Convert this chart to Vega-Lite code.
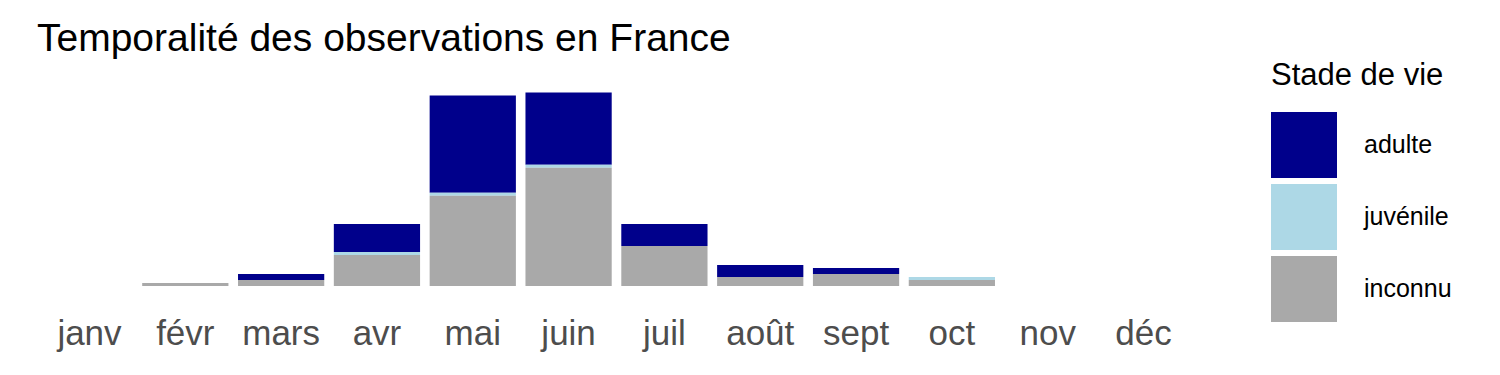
{
  "$schema": "https://vega.github.io/schema/vega-lite/v6.json",
  "autosize": "none",
  "width": 1169,
  "height": 200,
  "padding": {"left": 32, "top": 86, "right": 299, "bottom": 89},
  "background": "white",
  "config": {"view": {"stroke": null}, "font": "Liberation Sans"},
  "title": {
    "text": "Temporalité des observations en France",
    "font": "Liberation Sans",
    "fontSize": 39,
    "fontWeight": "normal",
    "color": "black",
    "anchor": "start",
    "frame": "group",
    "dx": 5,
    "offset": 2
  },
  "data": {
    "values": [
      {"mois": "févr", "stade": "inconnu", "n": 1},
      {"mois": "mars", "stade": "adulte", "n": 2},
      {"mois": "mars", "stade": "inconnu", "n": 2},
      {"mois": "avr", "stade": "adulte", "n": 9.3},
      {"mois": "avr", "stade": "juvénile", "n": 1},
      {"mois": "avr", "stade": "inconnu", "n": 10.3},
      {"mois": "mai", "stade": "adulte", "n": 32.3},
      {"mois": "mai", "stade": "juvénile", "n": 1},
      {"mois": "mai", "stade": "inconnu", "n": 30},
      {"mois": "juin", "stade": "adulte", "n": 24},
      {"mois": "juin", "stade": "juvénile", "n": 1},
      {"mois": "juin", "stade": "inconnu", "n": 39.3},
      {"mois": "juil", "stade": "adulte", "n": 7.3},
      {"mois": "juil", "stade": "inconnu", "n": 13.3},
      {"mois": "août", "stade": "adulte", "n": 4},
      {"mois": "août", "stade": "inconnu", "n": 3},
      {"mois": "sept", "stade": "adulte", "n": 2},
      {"mois": "sept", "stade": "inconnu", "n": 4},
      {"mois": "oct", "stade": "juvénile", "n": 1},
      {"mois": "oct", "stade": "inconnu", "n": 2}
    ]
  },
  "transform": [
    {"calculate": "indexof(['inconnu','juvénile','adulte'], datum.stade)", "as": "ordre"}
  ],
  "mark": {"type": "bar", "stroke": null},
  "encoding": {
    "x": {
      "field": "mois",
      "type": "nominal",
      "scale": {
        "domain": ["janv", "févr", "mars", "avr", "mai", "juin", "juil", "août", "sept", "oct", "nov", "déc"],
        "paddingInner": 0.1,
        "paddingOuter": 0.15
      },
      "axis": {
        "title": null,
        "labelAngle": 0,
        "ticks": false,
        "domain": false,
        "grid": false,
        "labelFont": "Liberation Sans",
        "labelFontSize": 35,
        "labelColor": "#4d4d4d",
        "labelPadding": 30
      }
    },
    "y": {
      "field": "n",
      "type": "quantitative",
      "stack": "zero",
      "scale": {"domain": [0, 66.5], "nice": false, "zero": true},
      "axis": null
    },
    "color": {
      "field": "stade",
      "type": "nominal",
      "scale": {
        "domain": ["adulte", "juvénile", "inconnu"],
        "range": ["#00008b", "#add8e6", "#a9a9a9"]
      },
      "legend": {
        "title": "Stade de vie",
        "orient": "none",
        "legendX": 1239,
        "legendY": -25,
        "titleFont": "Liberation Sans",
        "titleFontSize": 31,
        "titleFontWeight": "normal",
        "titleColor": "black",
        "titlePadding": 20,
        "symbolType": "square",
        "symbolSize": 4356,
        "symbolStrokeWidth": 0,
        "symbolOpacity": 1,
        "rowPadding": 6,
        "labelFont": "Liberation Sans",
        "labelFontSize": 25,
        "labelColor": "black",
        "labelOffset": 27,
        "padding": 0
      }
    },
    "order": {"field": "ordre", "type": "quantitative"}
  }
}
